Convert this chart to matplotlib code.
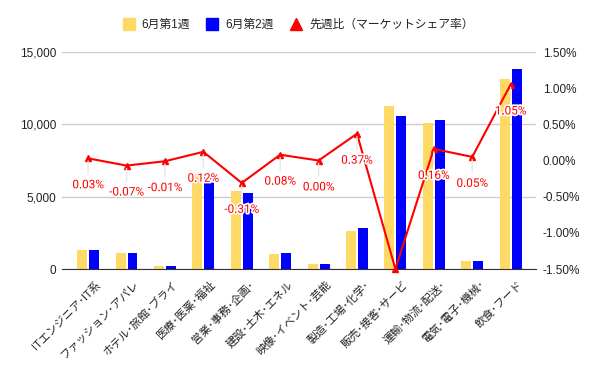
import numpy as np
import matplotlib
matplotlib.use("Agg")
import matplotlib.pyplot as plt
from matplotlib.lines import Line2D
from matplotlib.ticker import FuncFormatter, FixedLocator
from matplotlib.transforms import ScaledTranslation
import matplotlib.patheffects as pe

plt.rcParams['font.family'] = ['Liberation Sans', 'Noto Sans CJK JP', 'DejaVu Sans']

categories = ["ITエンジニア･IT系", "ファッション･アパレ", "ホテル･旅館･ブライ", "医療･医薬･福祉",
              "営業･事務･企画･", "建設･土木･エネル", "映像･イベント･芸能", "製造･工場･化学･",
              "販売･接客･サービ", "運輸･物流･配送･", "電気･電子･機械･", "飲食･フード"]
week1 = [1330, 1120, 230, 6600, 5390, 1050, 365, 2640, 11240, 10070, 570, 13160]
week2 = [1330, 1120, 230, 6650, 5250, 1120, 380, 2840, 10550, 10270, 570, 13850]
share_diff = [0.03, -0.07, -0.01, 0.12, -0.31, 0.08, 0.00, 0.37, -1.50, 0.16, 0.05, 1.05]
show_label = [True] * 8 + [False] + [True] * 3

c_yellow = "#FFD966"
c_blue = "#0000FF"
c_red = "#FF0000"
c_text = "#222222"

fig = plt.figure(figsize=(6, 3.71), dpi=100, facecolor="w")
ax = fig.add_axes([0.1033, 0.2749, 0.79, 0.5849])
ax2 = ax.twinx()

x = np.arange(len(categories))
w = 0.26
ax.bar(x - 0.156, week1, w, color=c_yellow, zorder=2)
ax.bar(x + 0.156, week2, w, color=c_blue, zorder=2)

ax.set_ylim(0, 15000)
ax.set_xlim(-0.68, 11.66)
ax.yaxis.set_major_locator(FixedLocator([0, 5000, 10000, 15000]))
ax.yaxis.set_major_formatter(FuncFormatter(lambda v, p: "{:,.0f}".format(v)))
ax.grid(axis="y", color="#cccccc", linewidth=1, zorder=0)
ax.set_axisbelow(True)
for s in ["top", "left", "right"]:
    ax.spines[s].set_visible(False)
    ax2.spines[s].set_visible(False)
ax2.spines["bottom"].set_visible(False)
ax.spines["bottom"].set_color("#333333")
ax.spines["bottom"].set_zorder(5)

ax.set_xticks(x)
ax.set_xticklabels(categories, rotation=45, ha="right", va="top", rotation_mode="anchor",
                   fontsize=8, color=c_text)
ax.tick_params(axis="x", length=0, pad=0)
ax.tick_params(axis="y", length=0, pad=4, labelsize=8.5, labelcolor=c_text)
# rotated labels hang a bit right of / below the category centre
shift = ScaledTranslation(7 / 100, -10 / 100, fig.dpi_scale_trans)
for lab in ax.get_xticklabels():
    lab.set_transform(lab.get_transform() + shift)

ax2.plot(x, share_diff, color=c_red, linewidth=1.5, marker="^", markersize=4, zorder=4, clip_on=False)
ax2.set_ylim(-1.5, 1.5)
ax2.yaxis.set_major_locator(FixedLocator([-1.5, -1.0, -0.5, 0.0, 0.5, 1.0, 1.5]))
ax2.yaxis.set_major_formatter(FuncFormatter(lambda v, p: "{:.2f}%".format(v)))
ax2.tick_params(axis="y", length=0, pad=5, labelsize=8.5, labelcolor=c_text)

for xi, v, show in zip(x, share_diff, show_label):
    if not show:
        continue
    ax2.annotate("{:.2f}%".format(v), (xi, v), xytext=(0, -19), textcoords="offset points",
                 ha="center", va="center", color=c_red, fontsize=8.5, family="Roboto",
                 path_effects=[pe.withStroke(linewidth=2.5, foreground="white")], zorder=6,
                 arrowprops=dict(arrowstyle="-", color="#e6e6e6", lw=1, shrinkA=1, shrinkB=2))

handles = [
    Line2D([], [], linestyle="none", marker="s", markersize=8, color=c_yellow),
    Line2D([], [], linestyle="none", marker="s", markersize=8, color=c_blue),
    Line2D([], [], linestyle="none", marker="^", markersize=8, color=c_red),
]
fig.legend(handles, ["6月第1週", "6月第2週", "先週比（マーケットシェア率）"], loc="center",
           bbox_to_anchor=(0.497, 0.933), ncol=3, frameon=False, fontsize=8.5,
           handlelength=1.0, handletextpad=0.6, columnspacing=1.4, labelcolor=c_text)

fig.savefig("out.png", dpi=100, facecolor="w")
